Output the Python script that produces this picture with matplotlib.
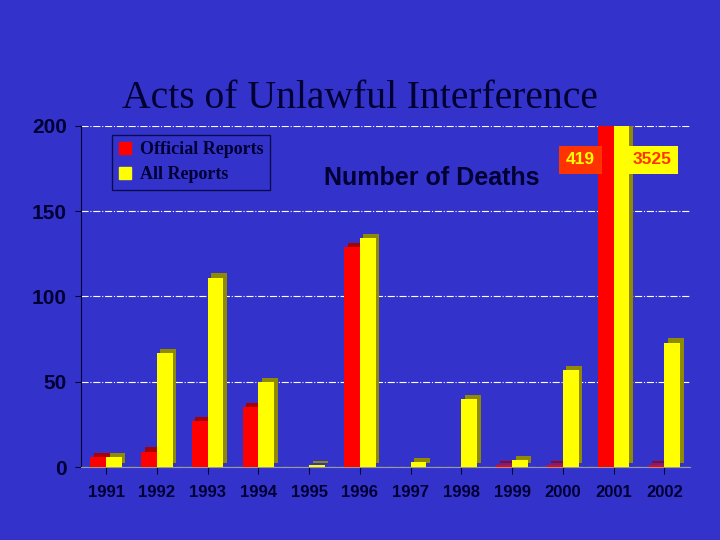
import numpy as np
import matplotlib
matplotlib.use("Agg")
import matplotlib.pyplot as plt
from matplotlib.patches import Patch

# data
years = ["1991", "1992", "1993", "1994", "1995", "1996",
         "1997", "1998", "1999", "2000", "2001", "2002"]
official = [6, 9, 27, 35, 0, 129, 0, 0, 1, 1, 419, 1]
all_reports = [6, 67, 111, 50, 1, 134, 3, 40, 4, 57, 3525, 73]

bg = "#3333cc"
ink = "#000033"
sans = ["Liberation Sans", "DejaVu Sans"]

fig = plt.figure(figsize=(7.2, 5.4), dpi=100, facecolor=bg)
ax = fig.add_axes([0.112, 0.135, 0.846, 0.632], facecolor=bg)

x = np.arange(len(years))
w = 0.31
dx, dy = 0.07, 2.5

# shaded "depth" bars behind, then the front faces
ax.bar(x - w / 2 + dx, official, w, bottom=dy, color="#aa0000", zorder=2)
ax.bar(x + w / 2 + dx, all_reports, w, bottom=dy, color="#8f8a00", zorder=2)
ax.bar(x - w / 2, official, w, color="#ff0000", zorder=3)
ax.bar(x + w / 2, all_reports, w, color="#ffff00", zorder=3)

ax.set_ylim(0, 200)
ax.set_xlim(-0.5, len(years) - 0.5)
ax.set_yticks([0, 50, 100, 150, 200])
ax.set_xticks(x)
ax.set_xticklabels(years)
ax.grid(axis="y", color="white", linestyle="-.", linewidth=0.8, zorder=1)
ax.set_axisbelow(True)

for s in ["top", "right"]:
    ax.spines[s].set_visible(False)
ax.spines["left"].set_color(ink)
ax.spines["bottom"].set_color("#999999")
ax.tick_params(axis="y", colors=ink, labelsize=15, length=4, pad=6)
ax.tick_params(axis="x", colors=ink, labelsize=12, length=5, pad=8)
for t in ax.get_yticklabels() + ax.get_xticklabels():
    t.set_family(sans)
    t.set_fontweight("bold")

# values that run off the top
ax.text(10 - w / 2 - 0.22, 180, str(official[10]), ha="right", va="center",
        color="#ffff00", fontsize=12.5, fontweight="bold", family=sans,
        bbox=dict(boxstyle="square,pad=0.4", fc="#ff3300", ec="none"), zorder=5)
ax.text(10 + w / 2 + 0.22, 180, str(all_reports[10]), ha="left", va="center",
        color="#ff3300", fontsize=12.5, fontweight="bold", family=sans,
        bbox=dict(boxstyle="square,pad=0.4", fc="#ffff00", ec="none"), zorder=5)

ax.text(0.577, 0.847, "Number of Deaths", transform=ax.transAxes, ha="center",
        va="center", color=ink, fontsize=18, fontweight="bold", family=sans)

handles = [Patch(color="#ff0000", label="Official Reports"),
           Patch(color="#ffff00", label="All Reports")]
leg = ax.legend(handles=handles, loc="upper left", bbox_to_anchor=(0.037, 1.0),
                frameon=True, fancybox=False, facecolor=bg, edgecolor=ink,
                handlelength=0.7, handleheight=0.7, handletextpad=0.5,
                borderpad=0.35, labelspacing=0.45,
                prop=dict(family="Liberation Serif", weight="bold", size=13))
for t in leg.get_texts():
    t.set_color(ink)

fig.text(0.5, 0.818, "Acts of Unlawful Interference", ha="center",
         va="center", color=ink, fontsize=28.5,
         family=["Liberation Serif", "DejaVu Serif"])

fig.savefig("out.png", dpi=100, facecolor=bg)
